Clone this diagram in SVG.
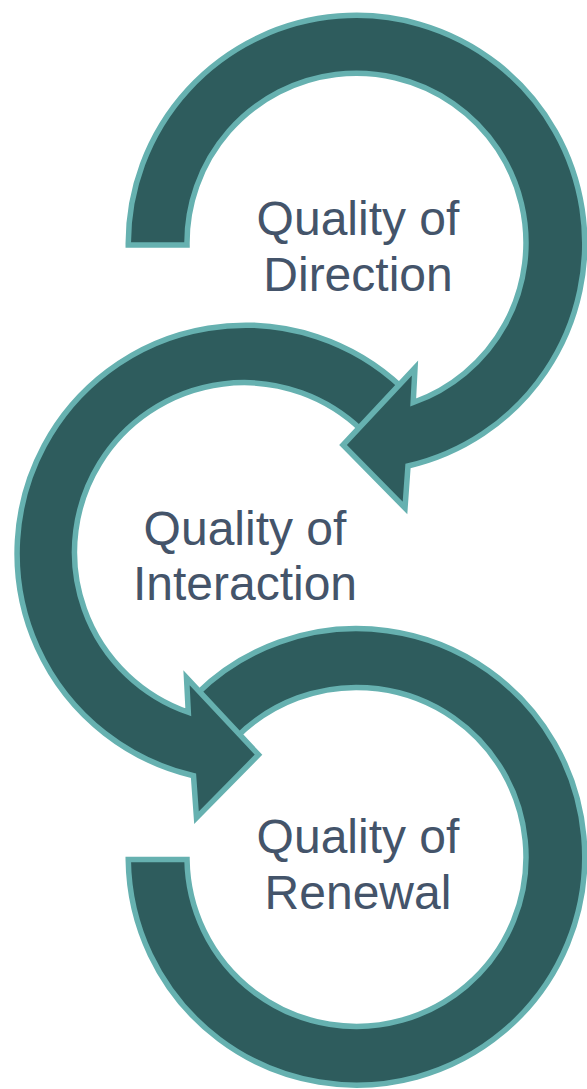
<svg xmlns="http://www.w3.org/2000/svg" width="587" height="1089" viewBox="0 0 587 1089">
  <style>
    .arrow { fill: #2E5C5D; stroke: #66B1B0; stroke-width: 5.5; stroke-linejoin: miter; stroke-miterlimit: 10; }
    .label { font-family: "Liberation Sans", Arial, sans-serif; font-size: 48px; fill: #44546A; text-anchor: middle; }
  </style>
  <rect width="587" height="1089" fill="#FFFFFF"/>
  <g id="connectors">
    <path id="arrow-renewal" class="arrow" d="M 196.4,694.2 A 228.25 228.25 0 1 1 128.26,859.5 L 187,859.5 A 169.5 169.5 0 1 0 236.6,737.1 Z"/>
    <path id="arrow-interaction" class="arrow" d="M 401.5,387 A 228.25 228.25 0 1 0 193.5,775.75 L 196.5,817.75 L 258.5,754.75 L 186.5,677.75 L 188.3,712.25 A 169.5 169.5 0 1 1 362,430.5 Z"/>
    <path id="arrow-direction" class="arrow" d="M 128.26,245 A 228.25 228.25 0 1 1 408,466 L 405,508 L 343,445 L 415,368 L 413.2,402.5 A 169.5 169.5 0 1 0 187,245 Z"/>
  </g>
  <g id="node-direction">
    <text class="label" x="358" y="235">Quality of</text>
    <text class="label" x="358" y="291">Direction</text>
  </g>
  <g id="node-interaction">
    <text class="label" x="245" y="545">Quality of</text>
    <text class="label" x="245" y="600">Interaction</text>
  </g>
  <g id="node-renewal">
    <text class="label" x="358" y="853">Quality of</text>
    <text class="label" x="358" y="909">Renewal</text>
  </g>
</svg>
